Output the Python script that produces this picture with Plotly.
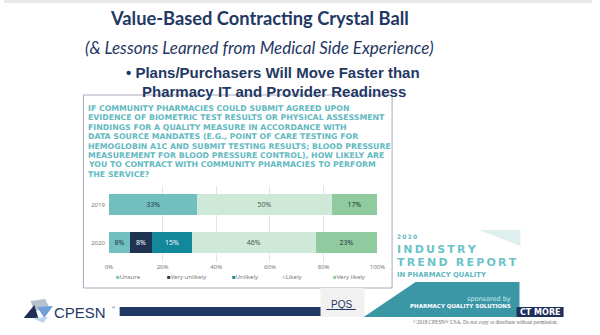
import plotly.graph_objects as go

W, H = 600, 335

# ---------------- data ----------------
years = ["2019", "2020"]
series_names = ["Unsure", "Very unlikely", "Unlikely", "Likely", "Very likely"]
unsure = [33, 8]
very_unlikely = [None, 8]
unlikely = [None, 15]
likely = [50, 46]
very_likely = [17, 23]
x_ticks = [0, 20, 40, 60, 80, 100]
x_tick_labels = ["0%", "20%", "40%", "60%", "80%", "100%"]

series_values = [unsure, very_unlikely, unlikely, likely, very_likely]
colors = ["#72bfbf", "#1e3451", "#13889b", "#cfe9d8", "#8fcb9f"]
text_colors = ["#1f3a44", "#ffffff", "#eef8f8", "#4b5a55", "#1f3a34"]

question_lines = [
    "IF COMMUNITY PHARMACIES COULD SUBMIT AGREED UPON",
    "EVIDENCE OF BIOMETRIC TEST RESULTS OR PHYSICAL ASSESSMENT",
    "FINDINGS FOR A QUALITY MEASURE IN ACCORDANCE WITH",
    "DATA SOURCE MANDATES (E.G., POINT OF CARE TESTING FOR",
    "HEMOGLOBIN A1C AND SUBMIT TESTING RESULTS; BLOOD PRESSURE",
    "MEASUREMENT FOR BLOOD PRESSURE CONTROL), HOW LIKELY ARE",
    "YOU TO CONTRACT WITH COMMUNITY PHARMACIES TO PERFORM",
    "THE SERVICE?",
]


def px(x):
    return x / W


def py(y):
    return 1 - y / H


def poly(points):
    s = "M " + " L ".join(f"{px(a):.5f},{py(b):.5f}" for a, b in points) + " Z"
    return s


fig = go.Figure()
for name, vals, col, tcol in zip(series_names, series_values, colors, text_colors):
    fig.add_trace(go.Bar(
        y=years, x=vals, name=name, orientation="h",
        marker=dict(color=col, line=dict(width=0)),
        width=0.56,
        text=[f"{v}%" if v is not None else "" for v in vals],
        textposition="inside", insidetextanchor="middle",
        textfont=dict(family="Noto Sans", size=7, color=tcol),
        showlegend=False,
    ))

NAVY = "#1f3864"
TEAL_TXT = "#62b9bf"

shapes = []
annotations = []

# top slide band
shapes.append(dict(type="rect", xref="paper", yref="paper", x0=0, x1=1, y0=py(3), y1=1,
                   fillcolor="#e9e9e9", line=dict(width=0), layer="below"))
# chart card
shapes.append(dict(type="rect", xref="paper", yref="paper", x0=px(81), x1=px(396), y0=py(288), y1=py(95),
                   fillcolor="white", line=dict(color="#a7a9bd", width=1), layer="below"))
# PQS gray panel
shapes.append(dict(type="rect", xref="paper", yref="paper", x0=px(323), x1=px(368), y0=py(317), y1=py(288),
                   fillcolor="#f1f1f1", line=dict(width=0), layer="below"))
# ad light triangle
shapes.append(dict(type="path", xref="paper", yref="paper", path=poly([(485, 230), (527, 230), (527, 246)]),
                   fillcolor="#dfeeee", line=dict(width=0), layer="below"))
# ad teal band
shapes.append(dict(type="path", xref="paper", yref="paper",
                   path=poly([(420, 282), (526, 282), (526, 317), (367, 317)]),
                   fillcolor="#3b97a6", line=dict(width=0), layer="below"))
# navy footer bar
shapes.append(dict(type="rect", xref="paper", yref="paper", x0=px(118), x1=px(323), y0=py(316), y1=py(307),
                   fillcolor=NAVY, line=dict(width=0), layer="below"))
# CONTACT MORE box
shapes.append(dict(type="rect", xref="paper", yref="paper", x0=px(523), x1=px(571), y0=py(317), y1=py(307),
                   fillcolor="#1e2f5a", line=dict(width=0), layer="below"))
# CPESN logo shapes
shapes.append(dict(type="path", xref="paper", yref="paper", path=poly([(27, 301), (42, 299), (47, 309), (31, 311)]),
                   fillcolor="#b6c0cf", line=dict(width=0), layer="below"))
shapes.append(dict(type="path", xref="paper", yref="paper", path=poly([(20, 318), (31, 305), (35, 318)]),
                   fillcolor="#1f2f55", line=dict(width=0), layer="below"))
shapes.append(dict(type="path", xref="paper", yref="paper", path=poly([(34, 307), (50, 306), (41, 318)]),
                   fillcolor="#6f9fd8", line=dict(width=0), layer="below"))
shapes.append(dict(type="path", xref="paper", yref="paper", path=poly([(29, 318), (45, 317), (40, 323)]),
                   fillcolor="#bcd3ee", line=dict(width=0), layer="below"))
# PQS underline
shapes.append(dict(type="line", xref="paper", yref="paper", x0=px(329), x1=px(359), y0=py(309.5), y1=py(309.5),
                   line=dict(color=NAVY, width=1)))


def ann(x, y, text, size, color, family="Liberation Sans", xanchor="center", yanchor="middle"):
    annotations.append(dict(x=px(x), y=py(y), xref="paper", yref="paper", text=text, showarrow=False,
                            xanchor=xanchor, yanchor=yanchor,
                            font=dict(family=family, size=size, color=color)))


# Slide titles
ann(260.5, 18, "<b>Value-Based Contracting Crystal Ball</b>", 18.3, NAVY, family="Lato")
ann(260.5, 47, "<i>(& Lessons Learned from Medical Side Experience)</i>", 17, NAVY, family="Lato")
ann(122, 72, "<b>• Plans/Purchasers Will Move Faster than</b>", 15, NAVY, xanchor="left")
ann(139, 91, "<b>Pharmacy IT and Provider Readiness</b>", 15, NAVY, xanchor="left")

# question text
for i, line in enumerate(question_lines):
    ann(84, 108.5 + i * 9.4, f"<b>{line}</b>", 7.8, TEAL_TXT, family="DejaVu Sans", xanchor="left")

# legend (manual, compact)
legend_x = [112, 164, 231, 282, 334]
for name, col, lx in zip(series_names, colors, legend_x):
    ann(lx, 277, f"<span style='color:{col}'>■</span>{name}", 6, "#7a7a7a", family="Noto Sans", xanchor="left")

# ad text
TS = "\u2009"
ann(399, 236.5, "<b>" + TS.join("2020") + "</b>", 6, "#5fb8c0", family="DejaVu Sans", xanchor="left")
ann(399, 249, "<b>" + TS.join("INDUSTRY") + "</b>", 11, "#6cc3c8", family="DejaVu Sans", xanchor="left")
ann(399, 262, "<b>" + TS.join("TREND REPORT") + "</b>", 11, "#6cc3c8", family="DejaVu Sans", xanchor="left")
ann(399, 275, "<b>IN PHARMACY QUALITY</b>", 6.8, "#5fb8c0", family="DejaVu Sans", xanchor="left")
ann(519, 299, "sponsored by", 6.5, "#cdeef0", family="DejaVu Sans", xanchor="right")
ann(519, 306, "<b>PHARMACY QUALITY SOLUTIONS</b>", 5.5, "white", family="DejaVu Sans", xanchor="right")
ann(547, 312, "<b>CT MORE</b>", 8, "white", family="DejaVu Sans")
ann(491, 322, "©2018 CPESN® USA. Do not copy or distribute without permission.", 5.2, "#6a6a6a",
    family="Liberation Serif")

# logos
ann(49, 312.5, "CPESN", 15, NAVY, family="Liberation Sans", xanchor="left")
ann(108, 307, "®", 4, NAVY, family="Liberation Sans", xanchor="left")
ann(344, 304, "PQS", 10, NAVY, family="Liberation Sans")

fig.update_layout(
    width=W, height=H,
    margin=dict(l=0, r=0, t=0, b=0),
    paper_bgcolor="white", plot_bgcolor="rgba(0,0,0,0)",
    barmode="stack", bargap=0.4,
    shapes=shapes, annotations=annotations,
    showlegend=False,
    uniformtext=dict(minsize=6, mode="show"),
    xaxis=dict(domain=[px(107), px(381)], range=[0, 100], tickvals=x_ticks, ticktext=x_tick_labels,
               showgrid=True, gridcolor="#e4e4e4", gridwidth=1, zeroline=False, showline=False,
               tickfont=dict(family="Noto Sans", size=6, color="#7a7a7a"), ticks="", fixedrange=True),
    yaxis=dict(domain=[py(261.5), py(185.5)], categoryorder="array", categoryarray=years,
               autorange="reversed", showgrid=False, zeroline=False, showline=False,
               tickfont=dict(family="Noto Sans", size=6, color="#7a7a7a"), ticks="", ticklabelstandoff=3),
)

fig.write_html("out.html")
